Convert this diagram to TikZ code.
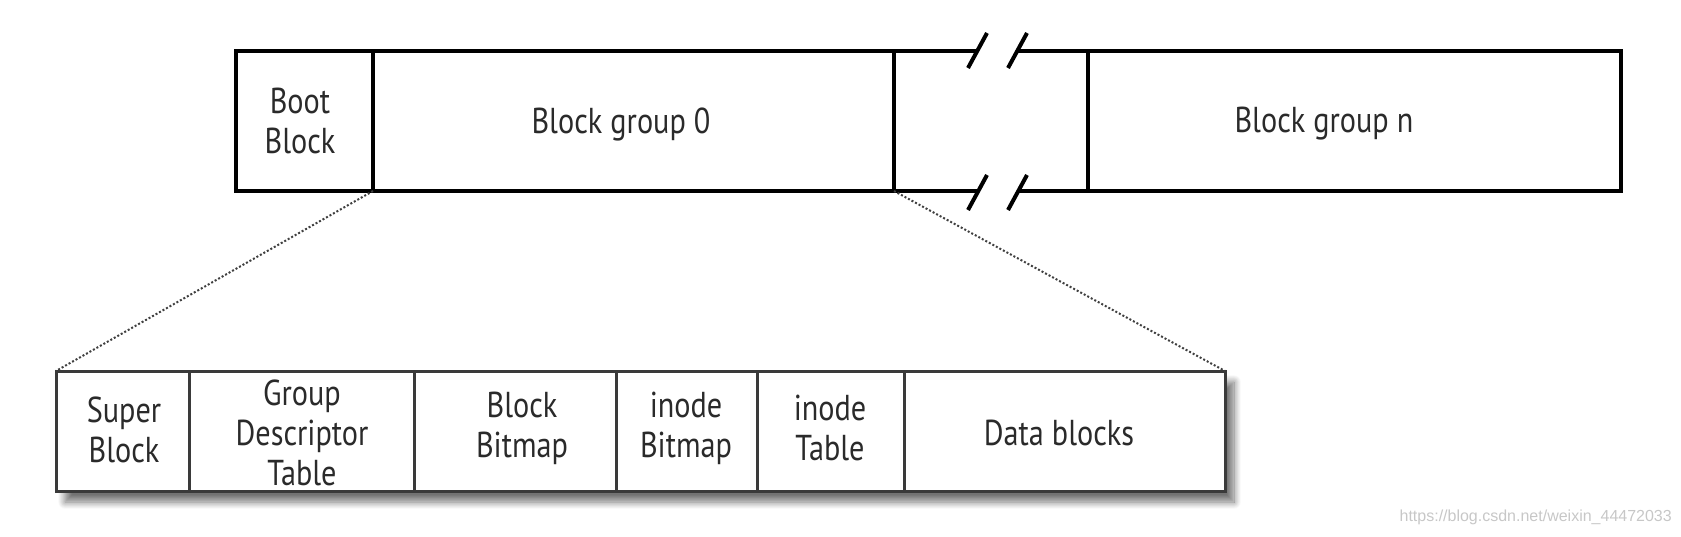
\documentclass[tikz,border=0pt]{standalone}
\usepackage{fontspec}
\setmainfont[FakeStretch=0.84]{PT Sans}
\newfontfamily\wmfont{Liberation Sans}
\usetikzlibrary{shadows.blur}
\definecolor{txtgray}{HTML}{2A2A2A}
\definecolor{rowgray}{HTML}{3A3A3A}
\begin{document}
\begin{tikzpicture}[x=1pt,y=-1pt,
  topbox/.style={draw=black, line width=4pt, minimum height=140pt, inner sep=0pt, outer sep=0pt},
  botbox/.style={draw=rowgray, line width=3pt, minimum height=120pt, inner sep=0pt, outer sep=0pt},
  txt/.style={font=\fontsize{36}{40}\selectfont, text=txtgray, align=center, inner sep=0pt},
  brk/.style={line width=4pt, black},
  zoomline/.style={draw=black!75, line width=2pt, dotted}
]
\useasboundingbox (0,0) rectangle (1681,536);
% top row
\node[topbox, minimum width=137pt] (boot) at (304.5,121) {};
\node[topbox, minimum width=521pt] (bg0) at (633.5,121) {};
\node[topbox, minimum width=533pt] (bgn) at (1354.5,121) {};
\coordinate (t1) at (977,51);
\coordinate (t2) at (1018,51);
\coordinate (b1) at (977,191);
\coordinate (b2) at (1018,191);
\draw[line width=4pt] (bg0.north east) -- (t1);
\draw[line width=4pt] (t2) -- (bgn.north west);
\draw[line width=4pt] (bg0.south east) -- (b1);
\draw[line width=4pt] (b2) -- (bgn.south west);
\draw[brk] (968,68) -- (987,33);
\draw[brk] (1008,68) -- (1027,33);
\draw[brk] (968,210) -- (987,175);
\draw[brk] (1008,210) -- (1027,175);
\node[txt] (tboot) at (300,121) {Boot\\Block};
\node[txt] (tbg0) at (621,124) {Block group 0};
\node[txt] (tbgn) at (1324,124) {Block group n};
% bottom row
\node[fill=white, minimum width=1169pt, minimum height=120pt, inner sep=0pt,
  blur shadow={shadow xshift=9pt, shadow yshift=-11pt, shadow blur steps=12, shadow blur radius=7pt, shadow opacity=55}] (row) at (640.5,431) {};
\node[botbox, minimum width=133pt] (super) at (122.5,431) {};
\node[botbox, minimum width=225pt] (gdt) at (301.5,431) {};
\node[botbox, minimum width=202pt] (bbm) at (515,431) {};
\node[botbox, minimum width=141pt] (ibm) at (686.5,431) {};
\node[botbox, minimum width=147pt] (itab) at (830.5,431) {};
\node[botbox, minimum width=321pt] (data) at (1064.5,431) {};
\node[txt] at (124,430) {Super\\Block};
\node[txt] at (302,433) {Group\\Descriptor\\Table};
\node[txt] at (522,428) {Block\\Bitmap};
\node[txt] at (686,428) {inode\\Bitmap};
\node[txt] at (830,428) {inode\\Table};
\node[txt] at (1059,433) {Data blocks};
% zoom lines
\draw[zoomline] (bg0.south west) -- (super.north west);
\draw[zoomline] (bg0.south east) -- (data.north east);
% watermark
\node[font=\wmfont\fontsize{16}{18}\selectfont, text=black!22, inner sep=0pt, anchor=east] (wm) at (1672,517) {https://blog.csdn.net/weixin\_44472033};
\end{tikzpicture}
\end{document}
